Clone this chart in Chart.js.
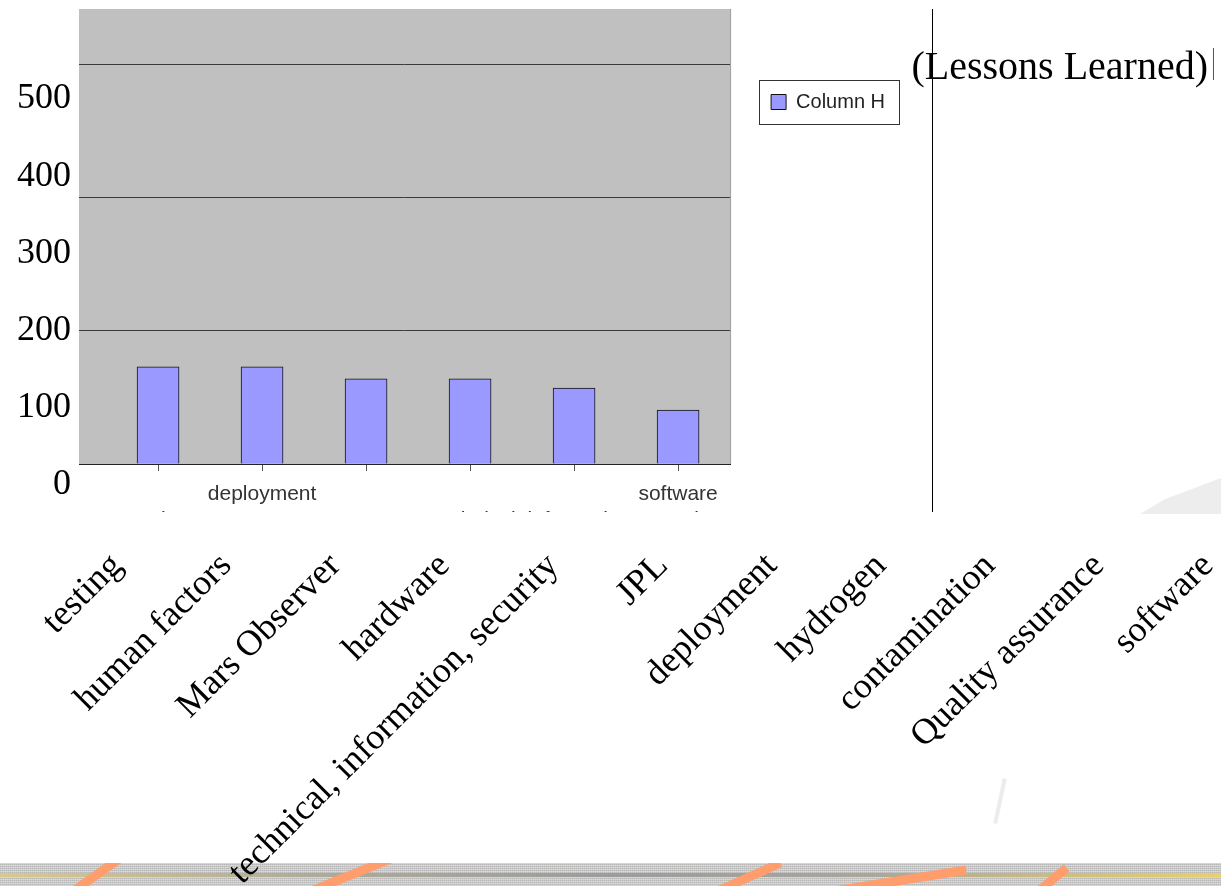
<!DOCTYPE html>
<html>
<head>
<meta charset="utf-8">
<script src="https://cdn.jsdelivr.net/npm/chart.js@4.4.0/dist/chart.umd.min.js"></script>
<style>
  html, body { margin: 0; padding: 0; background: #fff; }
  body { width: 1221px; height: 886px; position: relative; overflow: hidden; }
  .camada { position: absolute; left: 0; top: 0; }
  #caixaGrafico { width: 933px; height: 512px; }
  #caixaSlide { width: 1221px; height: 886px; pointer-events: none; }
  #divisor { position: absolute; left: 932px; top: 9px; width: 1px; height: 503px; background: #000; }
  #cursor { position: absolute; left: 1213px; top: 48px; width: 1px; height: 32px; background: #555; }
  #sombra { position: absolute; left: 1140px; top: 478px; width: 81px; height: 36px; background: #ededed;
            clip-path: polygon(100% 0, 100% 100%, 0 100%, 30% 60%); }
  #traco { position: absolute; left: 998px; top: 778px; width: 4px; height: 46px; background: #ececec; transform: rotate(12deg); }
  #faixa { position: absolute; left: 0; top: 863px; width: 1221px; height: 23px; overflow: hidden;
           background-color: #c6c6c6;
           background-image: repeating-linear-gradient(0deg, rgba(255,255,255,.35) 0 1px, transparent 1px 2px),
                             repeating-linear-gradient(90deg, rgba(0,0,0,.07) 0 1px, transparent 1px 2px); }
  #linhaFaixa { position: absolute; left: 0; top: 10px; width: 100%; height: 4px;
                background: linear-gradient(90deg, #d8c98c 0%, #b0ab98 25%, #9c9c9c 50%, #a8a59a 70%, #e8d06a 100%); }
  .risco { position: absolute; background: #ff9d6c; height: 9px; transform-origin: left center; }
</style>
</head>
<body>
<div id="faixa">
  <div id="linhaFaixa"></div>
  <div class="risco" style="left:70px;top:26px;width:60px;transform:rotate(-35deg)"></div>
  <div class="risco" style="left:305px;top:26px;width:95px;transform:rotate(-22deg)"></div>
  <div class="risco" style="left:712px;top:26px;width:75px;transform:rotate(-24deg)"></div>
  <div class="risco" style="left:818px;top:26px;width:150px;transform:rotate(-9deg)"></div>
  <div class="risco" style="left:1036px;top:26px;width:40px;transform:rotate(-40deg)"></div>
</div>
<div id="sombra"></div>
<div id="traco"></div>
<div id="caixaGrafico" class="camada"><canvas id="grafico"></canvas></div>
<div id="caixaSlide" class="camada"><canvas id="slide"></canvas></div>
<div id="divisor"></div>
<div id="cursor"></div>
<script>
// dados do grafico interno (Column H)
const categoriasInternas = ['testing', 'deployment', '', '', 'technical, information, security', 'software'];
const valoresColunaH = [36.5, 36.5, 32, 32, 28.5, 20.3];
const nomeSerie = 'Column H';

// textos do slide por cima do grafico
const rotulosSlide = ['testing', 'human factors', 'Mars Observer', 'hardware', 'technical, information, security',
    'JPL', 'deployment', 'hydrogen', 'contamination', 'Quality assurance', 'software'];
const ticksSlide = [0, 100, 200, 300, 400, 500];
const tituloSlide = '(Lessons Learned)';

const fonteSans = 'Liberation Sans';
const fonteSerif = 'Liberation Serif';

// fundo cinza da area do grafico
const fundoPlot = {
    id: 'fundoPlot',
    beforeDraw(chart) {
        const { ctx, chartArea: a } = chart;
        ctx.save();
        ctx.fillStyle = '#c0c0c0';
        ctx.fillRect(a.left, a.top, a.width, a.height);
        ctx.strokeStyle = '#9a9a9a';
        ctx.beginPath();
        ctx.moveTo(a.right + 0.5, a.top);
        ctx.lineTo(a.right + 0.5, a.bottom);
        ctx.stroke();
        ctx.restore();
    }
};

// moldura em volta da legenda
const bordaLegenda = {
    id: 'bordaLegenda',
    afterDraw(chart) {
        const caixa = chart.legend.legendHitBoxes[0];
        if (!caixa) return;
        const ctx = chart.ctx;
        ctx.save();
        ctx.strokeStyle = '#333';
        ctx.lineWidth = 1;
        ctx.strokeRect(Math.round(caixa.left - 12) + 0.5, Math.round(caixa.top - 12) + 0.5,
            Math.round(caixa.width + 26), Math.round(caixa.height + 24));
        ctx.restore();
    }
};

new Chart(document.getElementById('grafico'), {
    type: 'bar',
    data: {
        datasets: [{
            label: nomeSerie,
            data: valoresColunaH.map((v, i) => ({ x: i, y: v })),
            backgroundColor: '#9999ff',
            borderColor: '#111',
            borderWidth: 1,
            barThickness: 42
        }]
    },
    options: {
        responsive: true,
        maintainAspectRatio: false,
        animation: false,
        layout: { padding: { top: 9, left: 0, right: 38, bottom: 0 } },
        plugins: {
            tooltip: { enabled: false },
            legend: {
                position: 'right',
                align: 'start',
                title: { display: true, text: ' ', font: { size: 10 }, padding: { top: 30, bottom: 0 } },
                labels: {
                    boxWidth: 15, boxHeight: 15, padding: 41, color: '#222',
                    font: { family: fonteSans, size: 20 }
                }
            }
        },
        scales: {
            x: {
                type: 'linear',
                offset: false,
                min: -0.76,
                max: 5.5,
                afterBuildTicks: s => { s.ticks = categoriasInternas.map((_, i) => ({ value: i })); },
                afterFit: s => { s.height = 48; },
                ticks: {
                    autoSkip: false, maxRotation: 0, minRotation: 0, padding: 10, color: '#333',
                    font: { family: fonteSans, size: 21, lineHeight: 1.25 },
                    // rotulos alternados em duas linhas, como no original
                    callback: v => (v % 2 === 1 ? categoriasInternas[v] : ['', categoriasInternas[v]])
                },
                grid: { offset: false, drawOnChartArea: false, tickLength: 7, color: '#555' },
                border: { color: '#222' }
            },
            y: {
                min: 0,
                max: 171,
                afterFit: s => { s.width = 79; },
                ticks: { stepSize: 50, display: false, includeBounds: false },
                grid: { color: '#3a3a3a', drawTicks: false },
                border: { display: false }
            }
        }
    },
    plugins: [fundoPlot, bordaLegenda]
});

new Chart(document.getElementById('slide'), {
    type: 'bar',
    data: {
        labels: rotulosSlide,
        datasets: [{ data: rotulosSlide.map(() => null) }]
    },
    options: {
        responsive: true,
        maintainAspectRatio: false,
        animation: false,
        layout: { padding: { left: 0, right: 13, top: 0, bottom: 0 } },
        plugins: {
            legend: { display: false },
            tooltip: { enabled: false },
            title: {
                display: true, text: tituloSlide, align: 'end', color: '#000',
                font: { family: fonteSerif, size: 40, weight: 'normal' },
                padding: { top: 44, bottom: 7 }
            }
        },
        scales: {
            x: {
                offset: false,
                grid: { display: false },
                border: { display: false },
                afterFit: s => { s.height = 401; s.paddingLeft = 0; s.paddingRight = 0; },
                ticks: {
                    autoSkip: false, minRotation: 45, maxRotation: 45, padding: 52, color: '#000',
                    font: { family: fonteSerif, size: 36 }
                }
            },
            y: {
                min: ticksSlide[0],
                max: ticksSlide[ticksSlide.length - 1],
                afterFit: s => { s.width = 117; },
                grid: { display: false },
                border: { display: false },
                ticks: {
                    stepSize: ticksSlide[1] - ticksSlide[0], padding: 38, color: '#000',
                    font: { family: fonteSerif, size: 36 }
                }
            }
        }
    }
});
</script>
</body>
</html>
